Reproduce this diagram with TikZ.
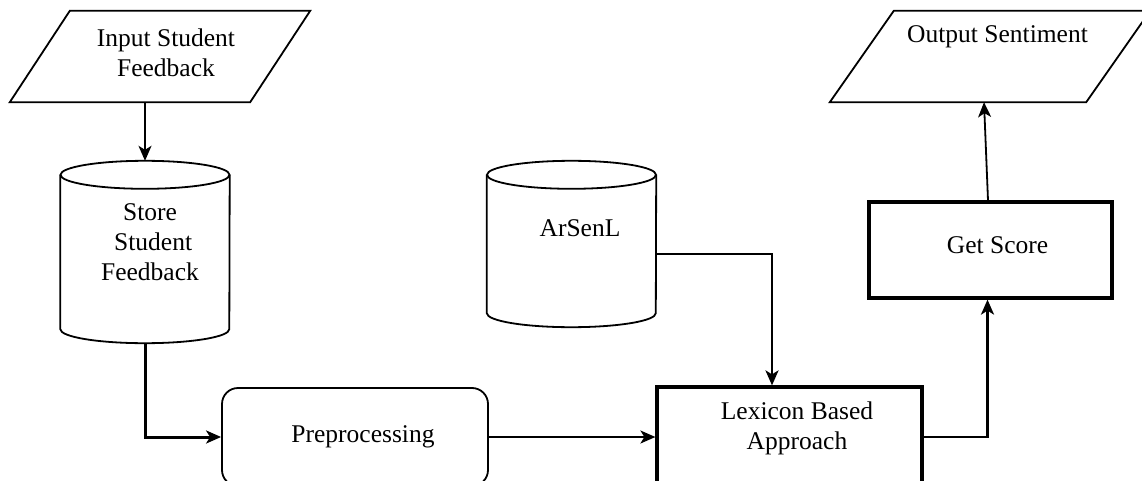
\documentclass[tikz,border=0pt]{standalone}
\usepackage{fontspec}
\setmainfont{Liberation Serif}
\usetikzlibrary{arrows.meta}

% outline of a drum (database) around a named node
\newcommand\drumoutline[1]{%
  \draw[outline] ([yshift=-14pt]#1.north west) -- ([yshift=14pt]#1.south west)
    arc[start angle=180, end angle=360, x radius=84.5pt, y radius=14pt]
    -- ([yshift=-14pt]#1.north east);
  \draw[outline] ([yshift=-14pt]#1.north) ellipse[x radius=84.5pt, y radius=14pt];}

% outline of a slanted input/output box around a named node
\newcommand\slantoutline[2]{%
  \draw[outline] ([xshift=#2]#1.north west) -- (#1.north east)
    -- ([xshift=-#2]#1.south east) -- (#1.south west) -- cycle;}

\begin{document}
\begin{tikzpicture}[x=1pt, y=-1pt,
  every node/.style={font=\fontsize{25.5}{30}\selectfont, align=center, inner sep=0pt},
  area/.style={draw=none, minimum width=#1},
  outline/.style={line width=1.8pt},
  heavy/.style={line width=3.2pt},
  tip/.style={-{Stealth[length=15pt, width=13pt, inset=4pt]}},
  flow/.style={tip, line width=1.8pt},
  boldflow/.style={tip, line width=3pt},
  roundbox/.style={draw, line width=1.8pt, rounded corners=16pt},
  squarebox/.style={draw, heavy}]

\useasboundingbox (0,0) rectangle (1142,481);
\clip (0,0) rectangle (1142,481);

% input
\node[area=300, minimum height=91] (input) at (160,56.5) {};
\slantoutline{input}{60pt}
\node (inputtxt) at (166,53) {Input Student\\Feedback};

% stored feedback
\node[area=169, minimum height=182] (store) at (145,252) {};
\drumoutline{store}
\node (storetxt) at (150,242) {Store\\\ Student\\Feedback};

% lexicon database
\node[area=169, minimum height=166] (arsenl) at (571.5,244) {};
\drumoutline{arsenl}
\node (arsenltxt) at (580,228) {ArSenL};

% processing steps
\node[roundbox, minimum width=266, minimum height=98] (prep) at (355,437)
  {\hspace*{16pt}Preprocessing};
\node[squarebox, minimum width=265, minimum height=100] (lex) at (789.5,437) {};
\node (lextxt) at (797,428) {Lexicon Based\\Approach};
\node[squarebox, minimum width=243, minimum height=96] (score) at (990.5,250) {};
\node (scoretxt) at (997.5,245) {Get Score};

% output
\node[area=320, minimum height=91] (output) at (990,56.5) {};
\slantoutline{output}{64pt}
\node (outputtxt) at (997.5,37) {Output Sentiment};

% connectors
\draw[flow] (store.north |- input.south) -- (store.north);
\draw[boldflow] (store.south) |- (prep.west);
\draw[flow] (prep.east) -- (lex.west);
\draw[boldflow, line width=2.6pt] ([yshift=-10pt]arsenl.east) -| ([xshift=-17.5pt]lex.north);
\draw[boldflow, line width=2.6pt] (lex.east) -| ([xshift=-3pt]score.south);
\draw[flow] ([xshift=-2.5pt]score.north) -- ([xshift=-6pt]output.south);
\end{tikzpicture}
\end{document}
